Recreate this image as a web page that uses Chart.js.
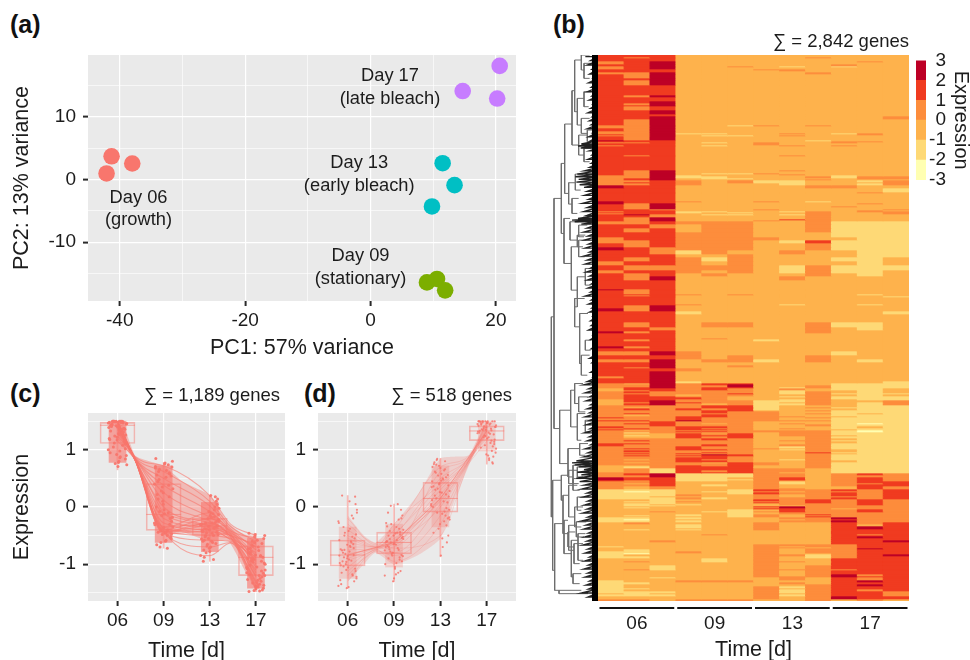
<!DOCTYPE html>
<html>
<head>
<meta charset="utf-8">
<title>Expression panels</title>
<script src="https://cdn.jsdelivr.net/npm/chart.js@4"></script>
<style>
    html, body { margin: 0; background: #fff; width: 970px; height: 660px; overflow: hidden; }
    canvas { position: absolute; }
    .tag { position: absolute; font: bold 25px "Liberation Sans", Arial, sans-serif; color: #111; line-height: 28px; }
</style>
</head>
<body>
<div class="tag" style="left:10px;top:10px">(a)</div>
<div class="tag" style="left:553px;top:10px">(b)</div>
<div class="tag" style="left:10px;top:379px">(c)</div>
<div class="tag" style="left:304px;top:379px">(d)</div>
<canvas id="pcaChart" style="left:0;top:0"></canvas>
<canvas id="dendroChart" style="left:548px;top:25px"></canvas>
<canvas id="heatChart" style="left:598px;top:25px"></canvas>
<canvas id="scaleChart" style="left:905px;top:45px"></canvas>
<canvas id="chartC" style="left:0;top:380px"></canvas>
<canvas id="chartD" style="left:270px;top:380px"></canvas>
<script>
// Panel (a): PCA
const pcaDay06 = [[-41.3, 3.7], [-38.0, 2.55], [-42.1, 0.96]];
const pcaDay09 = [[9.0, -16.4], [10.6, -15.85], [11.9, -17.66]];
const pcaDay13 = [[11.5, 2.6], [13.4, -0.9], [9.8, -4.3]];
const pcaDay17 = [[20.6, 18.1], [14.7, 14.1], [20.2, 12.9]];
const pcaLabels = [
    ["Day 17", "(late bleach)", 3.1, 16.5, 12.9],
    ["Day 13", "(early bleach)", -1.8, 2.66, -0.96],
    ["Day 09", "(stationary)", -1.6, -12.2, -15.85],
    ["Day 06", "(growth)", -37, -2.87, -6.5],
];

// Panel (b): heatmap rows, top to bottom: [height, levels of the 12 columns]
const heatLevelColors = ["#FFFFB2", "#FED976", "#FEB24C", "#FD8D3C", "#F03B20", "#BD0026"];
const heatColumns = ["06", "06", "06", "09", "09", "09", "13", "13", "13", "17", "17", "17"];
const heatRowsA = [
    [2, "444 222 222 222"], [1, "434 222 223 222"], [3, "444 222 222 222"], [1, "345 222 222 232"],
    [2, "345 222 222 222"], [2, "445 222 222 322"], [1, "345 223 212 122"], [2, "345 222 222 222"],
    [1, "444 222 332 222"], [1, "444 222 232 222"], [1, "444 222 222 222"],
    [2, "335 222 223 222"], [4, "435 222 222 222"], [2, "445 222 222 222"], [5, "435 222 222 222"],
    [10, "444 222 222 222"], [2, "435 222 222 222"], [4, "444 222 222 222"], [2, "445 222 222 222"],
    [2, "435 222 222 222"], [1, "445 222 222 222"], [4, "434 222 222 222"], [4, "445 222 222 222"],
    [2, "444 222 222 222"], [3, "445 222 222 223"], [6, "435 222 222 222"], [1, "335 221 323 222"], [2, "335 222 222 222"],
    [3, "435 222 222 222"], [2, "335 222 222 222"], [1, "335 112 232 132"], [1, "435 222 222 232"], [1, "335 211 232 222"],
    [4, "435 222 222 222"], [1, "544 222 221 222"], [1, "444 222 222 332"], [1, "334 212 322 322"], [2, "444 222 322 222"],
    [1, "344 212 232 322"], [9, "444 222 222 222"], [1, "434 222 232 222"], [14, "444 222 222 222"],
    [1, "435 222 232 222"], [2, "435 222 222 222"], [1, "435 211 322 222"], [1, "435 222 232 222"],
    [1, "335 122 222 122"], [2, "335 112 223 133"], [1, "345 211 222 233"], [1, "345 222 223 222"],
    [2, "334 323 112 213"], [1, "344 323 112 223"], [2, "334 322 212 213"],
    [3, "544 222 223 322"], [4, "444 222 222 221"],
];
const heatRowsB = [
    [1, "444 222 222 232"], [8, "444 222 222 222"], [1, "544 322 321 222"], [1, "544 222 222 222"],
    [1, "535 222 222 232"], [2, "435 222 222 222"], [1, "435 222 222 322"], [2, "435 222 222 222"],
    [1, "443 222 322 223"], [1, "444 222 222 232"], [1, "344 112 213 233"], [1, "444 121 223 223"], [1, "344 222 223 223"],
    [1, "453 211 213 222"], [2, "443 222 223 222"], [2, "435 222 223 222"], [1, "435 222 243 222"], [1, "435 222 323 222"],
    [3, "334 333 223 111"], [4, "443 233 223 111"], [4, "434 233 223 111"],
    [5, "444 333 222 111"], [3, "344 333 322 211"], [3, "334 333 214 111"], [4, "434 333 223 111"],
    [3, "543 333 223 111"], [4, "443 132 232 211"], [3, "444 223 222 211"], [4, "434 313 222 112"],
    [4, "344 323 222 212"], [5, "433 333 213 111"], [3, "344 323 213 112"], [3, "434 232 223 212"],
    [4, "435 222 232 222"], [9, "444 222 222 222"], [1, "534 222 222 222"], [4, "434 222 222 222"],
    [1, "444 323 222 212"], [1, "434 222 222 222"], [1, "444 222 222 221"], [7, "444 222 222 222"],
    [1, "444 322 212 212"], [3, "435 222 222 222"], [3, "535 222 222 222"], [3, "444 122 222 221"],
    [8, "444 222 222 222"], [5, "434 233 223 112"], [3, "443 222 223 212"],
];
const heatRowsC = [
    [1, "444 222 223 222"], [2, "534 222 223 222"], [5, "444 222 222 222"], [1, "444 232 222 222"],
    [2, "434 222 122 222"], [5, "444 222 222 222"], [2, "534 222 222 222"], [3, "444 222 222 222"],
    [4, "335 322 222 122"], [4, "444 323 223 222"], [3, "335 233 123 212"], [3, "445 222 222 222"],
    [2, "445 223 222 222"], [1, "435 222 222 222"], [3, "444 322 222 222"], [5, "445 222 222 222"],
    [2, "345 222 222 222"], [3, "445 222 222 222"], [2, "445 122 222 221"],
    [1, "325 344 222 111"], [1, "335 345 222 111"], [2, "335 335 223 111"], [1, "345 344 213 111"],
    [2, "244 343 232 112"], [1, "234 333 212 212"], [2, "343 333 213 212"], [1, "333 334 213 111"], [2, "343 233 223 212"],
    [1, "344 332 213 111"], [2, "344 432 223 111"], [1, "244 332 213 211"], [2, "245 333 113 223"], [1, "235 433 123 213"],
    [2, "245 323 113 213"], [2, "333 344 122 211"], [1, "323 344 123 111"], [2, "343 434 122 211"], [1, "333 344 223 111"],
    [2, "333 343 322 111"], [1, "343 333 323 121"], [2, "323 343 322 111"], [1, "333 443 332 211"], [1, "433 433 323 111"],
    [2, "333 433 322 111"], [1, "443 533 333 111"], [2, "334 333 222 111"], [1, "344 323 232 101"], [2, "334 333 223 111"],
    [2, "433 443 222 121"], [1, "343 433 232 111"], [1, "433 443 222 211"], [1, "323 333 333 101"], [1, "333 443 333 101"],
    [1, "313 323 233 111"], [2, "322 434 233 111"], [1, "312 444 233 211"], [2, "322 434 223 111"], [2, "333 343 223 211"],
    [1, "343 333 233 111"], [2, "333 333 223 211"], [1, "443 333 223 111"], [2, "433 343 233 111"], [2, "333 433 213 111"],
    [1, "343 433 323 111"], [1, "333 443 213 211"], [2, "343 333 223 211"], [1, "333 343 224 111"], [1, "343 433 223 211"],
    [1, "333 354 223 111"], [1, "343 444 223 111"], [1, "333 343 223 111"], [2, "333 443 223 111"], [1, "323 433 213 111"],
    [2, "333 443 223 211"], [1, "323 324 323 111"], [2, "333 334 323 111"], [1, "223 434 223 111"], [2, "213 444 223 111"],
];
const heatRowsD = [
    [2, "231 444 332 111"], [2, "231 434 332 111"], [1, "331 444 322 111"], [2, "345 111 332 343"], [2, "335 111 332 333"],
    [2, "544 112 342 343"], [1, "544 111 342 343"], [1, "434 112 332 343"], [2, "334 222 312 344"], [1, "324 222 312 334"],
    [2, "334 212 322 344"], [2, "323 222 322 243"], [1, "323 222 332 243"], [2, "111 221 433 434"], [1, "101 211 323 334"],
    [2, "111 221 433 434"], [2, "111 322 323 434"], [1, "112 222 323 334"], [2, "111 312 333 434"], [2, "221 222 434 343"],
    [1, "211 322 334 343"], [1, "221 222 434 343"], [1, "211 222 233 343"], [1, "212 122 233 343"], [1, "211 222 223 333"],
    [1, "222 222 453 333"], [1, "212 222 353 333"], [1, "222 222 443 233"], [2, "222 221 243 343"], [1, "223 211 343 343"],
    [2, "222 221 233 333"], [1, "222 121 324 333"], [1, "212 121 323 333"], [1, "222 221 324 333"], [2, "112 122 233 533"],
    [1, "102 222 223 433"], [2, "112 122 233 533"], [2, "232 222 322 434"], [2, "222 122 322 424"], [2, "222 122 322 454"],
    [1, "222 222 322 454"], [1, "212 122 322 444"], [4, "222 222 222 444"], [1, "222 232 222 434"], [1, "222 222 222 444"],
    [2, "222 222 222 454"], [2, "222 222 222 444"], [2, "223 222 222 445"], [2, "222 222 222 444"], [2, "222 222 333 344"],
    [1, "122 222 323 344"], [1, "222 222 332 344"], [1, "222 222 323 354"], [2, "212 222 323 344"], [2, "112 322 323 344"],
    [1, "102 222 322 344"], [2, "122 222 331 345"], [2, "112 222 321 344"], [3, "222 212 322 444"], [1, "232 212 332 444"],
    [3, "222 222 322 444"], [4, "221 222 323 444"], [1, "231 222 333 344"], [4, "222 222 323 444"], [2, "222 222 323 534"],
    [1, "222 222 333 544"], [1, "221 222 232 434"], [2, "222 222 232 434"], [2, "122 333 222 454"], [2, "112 222 232 444"],
    [2, "122 222 223 454"], [2, "122 222 313 444"], [1, "112 222 323 444"], [2, "122 222 313 434"], [2, "111 222 313 443"],
    [1, "212 222 323 443"], [2, "111 222 313 443"], [3, "222 222 323 544"], [2, "332 333 223 232"],
];

// Panel (b): dendrogram merges [height, top row, top child height, bottom row, bottom child height]
const dendroMerges = [
    [10, 800, 18, 1400, 14], [18, 445, 40, 1135, 35], [40, 340, 50, 550, 48], [50, 222, 72, 430, 62],
    [72, 122, 80, 285, 92], [80, 30, 100, 185, 88], [100, 15, 125, 60, 108], [108, 40, 128, 85, 125],
    [88, 145, 108, 225, 100], [108, 125, 128, 170, 122], [100, 205, 125, 250, 118], [92, 255, 118, 315, 108],
    [118, 240, 135, 275, 130], [108, 295, 130, 335, 125], [62, 398, 82, 462, 72], [82, 372, 105, 420, 98],
    [72, 445, 92, 490, 88], [48, 505, 66, 640, 70], [66, 515, 92, 570, 88], [92, 525, 118, 560, 108],
    [88, 555, 112, 590, 105], [70, 590, 92, 720, 88], [92, 570, 115, 620, 110], [88, 680, 112, 770, 80],
    [112, 655, 135, 705, 128], [80, 745, 110, 830, 95], [95, 790, 120, 940, 100], [100, 915, 125, 975, 118],
    [112, 870, 130, 900, 128], [35, 1080, 68, 1240, 60], [68, 1020, 80, 1130, 88], [80, 1000, 105, 1060, 92],
    [92, 1040, 120, 1085, 112], [88, 1090, 112, 1170, 100], [112, 1110, 130, 1145, 125], [60, 1195, 95, 1280, 75],
    [95, 1180, 120, 1215, 112], [75, 1245, 100, 1300, 92], [14, 1290, 40, 1560, 20], [40, 1275, 62, 1350, 45],
    [62, 1260, 88, 1300, 75], [88, 1250, 115, 1280, 105], [75, 1285, 100, 1320, 95], [45, 1335, 62, 1450, 62],
    [62, 1305, 88, 1400, 80], [88, 1340, 110, 1380, 100], [80, 1370, 105, 1430, 100], [62, 1425, 85, 1500, 78],
    [85, 1415, 115, 1460, 108], [78, 1480, 105, 1540, 95], [20, 1420, 48, 1620, 33], [48, 1410, 60, 1510, 70],
    [60, 1445, 82, 1490, 78], [70, 1470, 90, 1580, 75], [90, 1450, 112, 1530, 105], [75, 1570, 100, 1600, 95],
    [33, 1620, 100, 1630, 120],
];
const dendroLeaves = [
    [20, 112], [32, 128], [45, 118], [58, 132], [72, 125], [85, 135], [98, 122], [112, 130], [125, 118], [138, 132],
    [150, 124], [162, 135], [175, 128], [188, 120], [200, 133], [212, 125], [224, 130], [236, 118], [248, 134], [260, 122],
    [272, 128], [282, 100], [288, 90], [294, 98], [302, 125], [315, 132], [328, 120], [340, 130], [352, 125], [362, 110],
    [372, 88], [380, 82], [388, 92], [396, 85], [404, 95], [412, 108], [424, 118], [436, 110], [448, 122], [460, 104],
    [472, 118], [484, 108], [496, 116], [505, 90], [510, 72], [515, 80], [522, 100], [534, 118], [546, 108], [558, 120],
    [570, 110], [582, 122], [594, 112], [606, 125], [618, 108], [630, 118], [642, 112], [654, 128], [666, 115], [678, 125],
    [690, 118], [702, 130], [714, 120], [726, 128], [738, 112], [750, 130], [762, 122], [774, 132], [786, 125], [798, 135],
    [812, 128], [826, 130], [840, 122], [854, 135], [868, 128], [882, 138], [896, 130], [910, 140], [924, 125], [938, 132],
    [952, 138], [966, 128], [980, 135], [994, 118], [1004, 108], [1016, 122], [1028, 112], [1040, 125], [1052, 115], [1064, 128],
    [1076, 118], [1088, 125], [1100, 112], [1112, 122], [1124, 115], [1136, 126], [1148, 110], [1160, 124], [1172, 118], [1184, 128],
    [1196, 112], [1208, 120], [1220, 108], [1232, 85], [1238, 72], [1244, 80], [1250, 92], [1258, 108], [1266, 88], [1274, 100],
    [1284, 85], [1294, 95], [1304, 110], [1316, 102], [1328, 118], [1340, 106], [1352, 120], [1364, 110], [1376, 118], [1388, 105],
    [1400, 120], [1412, 100], [1424, 115], [1436, 108], [1448, 122], [1460, 110], [1472, 118], [1484, 105], [1496, 120], [1508, 112],
    [1520, 125], [1532, 110], [1544, 122], [1556, 108], [1568, 120], [1580, 112], [1592, 125], [1604, 115], [1616, 122], [1628, 100],
    [1640, 120],
];

// Panels (c) and (d)
const days = ["06", "09", "13", "17"];
const cloudOffsets = [
    -0.18, 0.07, -0.03, 0.16, -0.11, 0.02, 0.19, -0.07, 0.12, -0.15, 0.05, -0.2, 0.1, -0.01, 0.17, -0.13, 0.04, -0.09, 0.14, -0.05,
    0.2, -0.17, 0.08, -0.02, 0.13, -0.12, 0.01, 0.18, -0.08, 0.11, -0.19, 0.06, -0.04, 0.15, -0.14, 0.03, 0.09, -0.1, 0.17, -0.06,
    0.12, -0.16, 0.0, 0.2, -0.03, -0.18, 0.1, 0.05, -0.12, 0.16, -0.07, 0.02, 0.13, -0.2, 0.08, -0.01, 0.19, -0.15, 0.04, -0.09,
];
const cCloud06 = [1.48, 1.5, 1.42, 1.36, 1.5, 1.28, 1.45, 1.12, 1.49, 1.33, 0.98, 1.47, 1.5, 1.22, 0.84, 1.41, 1.5, 1.05, 1.38, 0.76, 1.46, 1.18, 1.5, 0.92, 1.31, 1.44, 0.71, 1.26, 1.5, 1.08, 1.39, 0.88, 1.49, 1.15, 1.43, 0.8, 1.35, 1.5, 1.02, 1.24, 1.47, 0.95, 1.4, 0.74, 1.5, 1.2, 1.3, 0.86, 1.45, 1.1, 1.5, 0.78, 1.37, 1.0, 1.48, 1.17, 0.9, 1.42, 1.27, 1.5];
const cCloud09 = [0.71, -0.42, 0.35, -0.55, 0.62, -0.12, 0.8, -0.38, 0.18, -0.66, 0.52, -0.28, 0.74, 0.05, -0.47, 0.44, -0.6, 0.66, -0.2, 0.28, -0.35, 0.85, -0.5, 0.1, 0.58, -0.44, -0.05, 0.7, -0.7, 0.38, -0.31, 0.64, -0.15, -0.52, 0.22, 0.77, -0.4, 0.48, -0.25, -0.62, 0.6, 0.0, -0.36, 0.32, -0.48, 0.68, -0.1, -0.58, 0.14, 0.54, -0.42, 0.75, -0.3, 0.4, -0.72, 0.25, -0.18, 0.56, -0.45, -0.08];
const cCloud13 = [-0.3, -0.12, -0.55, 0.05, -0.38, -0.7, -0.22, -0.45, 0.18, -0.6, -0.28, -0.85, -0.05, -0.4, -0.33, -0.75, -0.18, -0.5, 0.1, -0.65, -0.25, -0.42, -0.92, -0.08, -0.35, -0.58, -0.15, -0.48, -0.8, 0.0, -0.3, -0.62, -0.2, -0.44, -0.95, -0.1, -0.37, -0.52, 0.14, -0.68, -0.27, -0.41, -0.78, -0.02, -0.34, -0.56, -0.17, -0.46, -0.88, -0.24, -0.39, 0.2, -0.64, -0.31, -0.5, -0.72, -0.13, -0.43, -0.6, -0.28];
const cCloud17 = [-0.9, -1.2, -0.62, -1.42, -0.78, -1.05, -0.5, -1.33, -0.95, -1.48, -0.7, -1.15, -0.85, -1.38, -0.55, -1.02, -1.28, -0.66, -1.45, -0.92, -1.1, -0.74, -1.35, -0.48, -1.22, -0.82, -1.4, -0.98, -0.6, -1.3, -1.08, -0.76, -1.46, -0.88, -1.18, -0.58, -1.25, -0.94, -1.37, -0.68, -1.12, -0.8, -1.43, -1.0, -0.52, -1.27, -0.86, -1.4, -0.72, -1.16, -0.96, -1.32, -0.64, -1.06, -1.47, -0.84, -1.2, -0.46, -1.36, -0.9];
const dCloud06 = [-0.85, -0.6, -1.1, 0.18, -0.95, -0.42, -1.25, -0.75, -0.2, -1.02, -0.68, -1.38, -0.52, -0.9, 0.05, -1.15, -0.78, -0.35, -1.3, -0.82, -0.1, -0.98, -0.62, -1.42, -0.72, 0.2, -1.06, -0.48, -0.88, -1.2, -0.28, -0.7, -1.0, -0.55, -1.35, -0.92, -0.15, -0.8, -1.12, -0.45, -0.65, -1.28, -0.86, -0.05, -0.96, -0.58, -1.18, -0.38, -0.76, -1.08, -0.5, -1.4, -0.84, -0.25, -0.94, -0.66, -1.22, -0.74, 0.1, -1.04];
const dCloud09 = [-0.62, -0.45, -0.8, -0.2, -0.7, -1.05, -0.52, 0.02, -0.88, -0.6, -0.35, -1.2, -0.75, -0.5, -0.95, -0.1, -0.66, -0.42, -1.12, -0.82, -0.56, -0.28, -0.72, -1.3, -0.48, -0.9, -0.64, -0.15, -0.78, -0.38, -1.0, -0.58, -0.85, -0.05, -0.68, -0.46, -1.15, -0.74, -0.54, -0.3, -0.92, -0.6, -1.25, -0.4, -0.8, -0.7, -0.22, -0.98, -0.5, -0.84, -0.62, -1.08, -0.44, -0.76, 0.05, -0.65, -0.86, -0.34, -1.18, -0.56];
const dCloud13 = [0.45, 0.1, 0.72, -0.2, 0.3, 0.58, -0.05, 0.84, 0.22, -0.45, 0.5, 0.02, 0.66, -0.3, 0.38, 0.78, -0.12, 0.15, -0.62, 0.55, 0.28, 0.7, -0.25, 0.42, -0.02, 0.62, -0.85, 0.18, 0.82, -0.15, 0.35, 0.48, -0.38, 0.08, 0.75, 0.25, -0.08, 0.6, -0.5, 0.32, 0.52, 0.0, 0.68, -0.22, 0.4, 0.12, 0.8, -0.7, 0.2, 0.56, -0.1, 0.46, -0.32, 0.05, 0.64, 0.26, -0.18, 0.36, -0.55, 0.74];
const dCloud17 = [1.42, 1.28, 1.5, 1.1, 1.36, 1.47, 0.95, 1.22, 1.5, 1.33, 0.82, 1.45, 1.16, 1.39, 1.5, 1.04, 1.3, 1.48, 0.88, 1.25, 1.43, 1.5, 1.12, 1.35, 0.76, 1.46, 1.2, 1.4, 1.5, 0.98, 1.32, 1.44, 1.08, 1.27, 1.49, 0.9, 1.37, 1.5, 1.18, 1.41, 0.78, 1.3, 1.47, 1.02, 1.24, 1.5, 1.34, 0.85, 1.44, 1.14, 1.38, 1.5, 1.06, 1.29, 1.46, 0.92, 1.4, 1.5, 1.22, 1.35];

const cTraceDays = [0, 0.38, 1, 2, 2.45, 3];
const cTraces = [
    [1.5, 0.88, 0.72, 0.2, -0.3, -0.5], [1.45, 0.87, 0.62, 0.1, -0.34, -0.6], [1.48, 0.86, 0.5, 0.02, -0.38, -0.75],
    [1.42, 0.85, 0.38, -0.08, -0.4, -0.85], [1.3, 0.85, 0.25, -0.18, -0.42, -0.95], [1.2, 0.84, 0.12, -0.25, -0.45, -0.7],
    [1.47, 0.84, 0, -0.28, -0.44, -1.05], [1.4, 0.84, -0.12, -0.32, -0.47, -0.9], [1.35, 0.83, -0.2, -0.36, -0.48, -1.15],
    [1.5, 0.83, -0.28, -0.4, -0.5, -1.22], [1.46, 0.83, -0.34, -0.3, -0.52, -1.3], [1.43, 0.82, -0.38, -0.44, -0.5, -1.0],
    [1.38, 0.82, -0.4, -0.2, -0.47, -1.38], [1.25, 0.83, -0.42, -0.5, -0.55, -0.8], [1.5, 0.82, -0.43, -0.28, -0.52, -1.45],
    [1.44, 0.83, -0.44, -0.38, -0.54, -1.2], [1.32, 0.84, -0.45, -0.58, -0.6, -1.1], [1.48, 0.82, -0.46, -0.7, -0.62, -1.32],
    [1.15, 0.82, -0.41, -0.85, -0.63, -1.4], [1.5, 0.83, -0.44, -0.33, -0.5, -0.65], [1.41, 0.84, -0.36, -0.1, -0.42, -0.55],
    [1.36, 0.85, -0.47, -0.42, -0.56, -0.92],
];
const dTraceDays = [0, 0.6, 1, 2, 2.6, 3];
const dTraces = [
    [-0.2, -0.66, -0.4, 0.7, 0.88, 1.48], [-0.55, -0.7, -0.5, 0.5, 0.85, 1.42], [-0.9, -0.72, -0.6, 0.3, 0.82, 1.35],
    [-1.2, -0.74, -0.7, 0.15, 0.8, 1.3], [-0.4, -0.68, -0.55, 0.1, 0.78, 1.25], [-0.75, -0.72, -0.62, 0.0, 0.8, 1.5],
    [-1.05, -0.76, -0.85, -0.15, 0.78, 1.4], [-0.62, -0.7, -0.3, 0.4, 0.84, 1.2], [-0.85, -0.74, -0.95, -0.3, 0.76, 1.33],
    [-0.3, -0.64, -0.66, 0.62, 0.86, 1.45], [-1.3, -0.78, -0.8, 0.05, 0.75, 1.15], [-0.7, -0.7, -0.58, 0.22, 0.82, 1.38],
    [-0.82, -0.72, -0.64, 0.16, 0.8, 1.32], [-0.94, -0.74, -0.48, 0.36, 0.83, 1.44], [-0.5, -0.7, -0.72, -0.5, 0.74, 1.28],
    [-1.12, -0.76, -0.6, 0.12, 0.79, 1.36],
];
const cBandDays = [0, 0.15, 0.38, 0.6, 1, 1.4, 2, 2.4, 2.75, 3];
const cBandUpper = [1.5, 1.38, 0.9, 0.82, 0.72, 0.45, 0.2, -0.28, -0.48, -0.5];
const cBandLower = [1.2, 1.1, 0.82, 0.3, -0.47, -0.44, -0.6, -0.6, -1.1, -1.45];
const dBandDays = [0, 0.35, 0.6, 1, 1.5, 2, 2.3, 2.6, 2.8, 3];
const dBandUpper = [-0.15, -0.5, -0.62, -0.3, 0.2, 0.85, 0.88, 0.9, 1.2, 1.5];
const dBandLower = [-1.3, -1.0, -0.8, -1.0, -0.85, -0.55, 0.1, 0.7, 1.05, 1.25];

const cBoxes = [[1.11, 1.48], [-0.41, 0.41], [-0.49, -0.2], [-1.2, -0.68]];
const cMedians = [1.43, -0.13, -0.33, -0.88];
const cWhiskers = [[0.65, 1.5], [-0.72, 0.78], [-0.95, 0.2], [-1.48, -0.46]];
const cDense = [[0.78, 1.5], [-0.62, 0.72], [-0.78, 0.08], [-1.42, -0.55]];
const dBoxes = [[-1.03, -0.58], [-0.82, -0.44], [-0.09, 0.43], [1.16, 1.42]];
const dMedians = [-0.84, -0.62, 0.15, 1.33];
const dWhiskers = [[-1.42, 0.2], [-1.3, 0.05], [-0.87, 0.85], [0.75, 1.5]];
const dDense = [[-1.25, -0.35], [-1.05, -0.3], [-0.35, 0.72], [0.98, 1.5]];

const FONT = '"Liberation Sans", Arial, sans-serif';
const INK = "#1c1c1c";
const SALMON = "248,118,109";

// Fills the plot area and writes the free-standing captions
const panelPaint = {
    id: "panelPaint",
    beforeDraw(chart, args, opts) {
        const a = chart.chartArea;
        chart.ctx.fillStyle = opts.background;
        chart.ctx.fillRect(a.left, a.top, a.width, a.height);
    },
    afterDraw(chart, args, opts) {
        if (!opts.caption) return;
        const ctx = chart.ctx;
        ctx.save();
        ctx.font = "18.5px " + FONT;
        ctx.fillStyle = INK;
        ctx.textAlign = "right";
        ctx.textBaseline = "middle";
        ctx.fillText(opts.caption, opts.captionX, opts.captionY);
        ctx.restore();
    },
};

function ggAxis(conf) {
    const isMajor = (v) => conf.majors.includes(v);
    return {
        type: "linear",
        min: conf.min,
        max: conf.max,
        offset: false,
        afterBuildTicks(axis) {
            axis.ticks = conf.majors.concat(conf.minors).map((v) => ({ value: v }));
        },
        afterFit(axis) {
            if (axis.isHorizontal()) {
                axis.height = conf.size;
                axis.paddingLeft = 0;
                axis.paddingRight = 0;
            } else {
                axis.width = conf.size;
                axis.paddingTop = 0;
                axis.paddingBottom = 0;
            }
        },
        grid: {
            offset: false,
            color: "#fff",
            lineWidth: (c) => (c.tick && isMajor(c.tick.value) ? 1.2 : 0.6),
            tickColor: (c) => (c.tick && isMajor(c.tick.value) ? "#2a2a2a" : "rgba(0,0,0,0)"),
            tickWidth: 2,
            tickLength: 5,
        },
        border: { display: false },
        ticks: {
            autoSkip: false,
            maxRotation: 0,
            padding: conf.padding,
            color: INK,
            font: { family: FONT, size: 19 },
            callback: (v) => (isMajor(v) ? conf.label(v) : ""),
        },
        title: {
            display: !!conf.title,
            text: conf.title,
            color: INK,
            font: { family: FONT, size: 21.5 },
            padding: conf.titlePadding,
        },
    };
}

function sizeCanvas(id, w, h) {
    const el = document.getElementById(id);
    el.width = w;
    el.height = h;
    el.style.width = w + "px";
    el.style.height = h + "px";
    return el;
}

const basePlugins = { legend: { display: false }, tooltip: { enabled: false } };

// Panel (a)
const pcaWriter = {
    id: "pcaWriter",
    afterDatasetsDraw(chart) {
        const ctx = chart.ctx;
        const { x, y } = chart.scales;
        ctx.save();
        ctx.font = "18.3px " + FONT;
        ctx.fillStyle = INK;
        ctx.textAlign = "center";
        ctx.textBaseline = "middle";
        pcaLabels.forEach(([line1, line2, px, y1, y2]) => {
            ctx.fillText(line1, x.getPixelForValue(px), y.getPixelForValue(y1));
            ctx.fillText(line2, x.getPixelForValue(px), y.getPixelForValue(y2));
        });
        ctx.restore();
    },
};

function pcaSet(points, color) {
    return {
        data: points.map(([x, y]) => ({ x, y })),
        backgroundColor: color,
        borderWidth: 0,
        pointRadius: 8.3,
    };
}

new Chart(sizeCanvas("pcaChart", 537, 370), {
    type: "scatter",
    data: {
        datasets: [
            pcaSet(pcaDay06, "#F8766D"),
            pcaSet(pcaDay09, "#7CAE00"),
            pcaSet(pcaDay13, "#00BFC4"),
            pcaSet(pcaDay17, "#C77CFF"),
        ],
    },
    options: {
        responsive: false,
        animation: false,
        layout: { autoPadding: false, padding: { top: 55, right: 21 } },
        scales: {
            x: ggAxis({
                min: -45.06, max: 23.2, majors: [-40, -20, 0, 20], minors: [-30, -10, 10],
                label: (v) => String(v), size: 69, padding: 3,
                title: "PC1: 57% variance", titlePadding: { top: 0, bottom: 9 },
            }),
            y: ggAxis({
                min: -19.36, max: 19.84, majors: [-10, 0, 10], minors: [-15, -5, 5, 15],
                label: (v) => String(v), size: 88, padding: 7,
                title: "PC2: 13% variance", titlePadding: { top: 9, bottom: 0 },
            }),
        },
        plugins: Object.assign({ panelPaint: { background: "#EAEAEA" } }, basePlugins),
    },
    plugins: [panelPaint, pcaWriter],
});

// Panel (b): dendrogram
const dendroSets = dendroMerges.map(([h, top, topChild, bot, botChild]) => ({
    data: [
        { x: topChild, y: top },
        { x: h, y: top },
        { x: h, y: bot },
        { x: botChild, y: bot },
    ],
    borderColor: "#6e6e6e",
    borderWidth: 1,
    pointRadius: 0,
    showLine: true,
}));
const leafPath = [];
dendroLeaves.forEach(([row, left]) => {
    leafPath.push({ x: left, y: row }, { x: 150, y: row });
});
dendroSets.unshift(
    {
        data: [{ x: 141, y: 15 }, { x: 141, y: 1652 }],
        borderColor: "#000",
        borderWidth: 6,
        pointRadius: 0,
        showLine: true,
    },
    { data: leafPath, borderColor: "#222", borderWidth: 1.4, pointRadius: 0, showLine: true }
);

new Chart(sizeCanvas("dendroChart", 50, 576), {
    type: "scatter",
    data: { datasets: dendroSets },
    options: {
        responsive: false,
        animation: false,
        layout: { autoPadding: false, padding: { top: 30 } },
        scales: {
            x: { type: "linear", min: 0, max: 150, display: false },
            y: { type: "linear", min: 15, max: 1652, reverse: true, display: false },
        },
        plugins: basePlugins,
    },
});

// Panel (b): heatmap
const heatRows = heatRowsA.concat(heatRowsB, heatRowsC, heatRowsD);
const heatSets = heatRows.map(([height, levels]) => {
    const codes = levels.replace(/ /g, "").split("");
    return {
        data: codes.map(() => height),
        backgroundColor: codes.map((c) => heatLevelColors[Number(c)]),
        borderWidth: 0,
        categoryPercentage: 1,
        barPercentage: 1,
    };
});
const heatGroupBars = {
    id: "heatGroupBars",
    afterDraw(chart) {
        const ctx = chart.ctx;
        const x = chart.scales.x;
        const colW = x.getPixelForValue(1) - x.getPixelForValue(0);
        ctx.save();
        ctx.strokeStyle = "#111";
        ctx.lineWidth = 2;
        for (let i = 0; i < heatColumns.length; i += 3) {
            ctx.beginPath();
            ctx.moveTo(x.getPixelForValue(i) - colW / 2 + 1.5, chart.chartArea.bottom + 7);
            ctx.lineTo(x.getPixelForValue(i + 2) + colW / 2 - 1.5, chart.chartArea.bottom + 7);
            ctx.stroke();
        }
        ctx.restore();
    },
};

new Chart(sizeCanvas("heatChart", 311, 639), {
    type: "bar",
    data: { labels: heatColumns, datasets: heatSets },
    options: {
        responsive: false,
        animation: false,
        layout: { autoPadding: false, padding: { top: 30 } },
        scales: {
            x: {
                stacked: true,
                grid: { display: false },
                border: { display: false },
                afterFit(axis) { axis.height = 63; },
                ticks: {
                    autoSkip: false,
                    maxRotation: 0,
                    padding: 3,
                    color: INK,
                    font: { family: FONT, size: 19 },
                    callback(v, i) { return i % 3 === 1 ? heatColumns[i] : ""; },
                },
                title: {
                    display: true,
                    text: "Time [d]",
                    color: INK,
                    font: { family: FONT, size: 21.5 },
                    padding: { top: 0, bottom: 1 },
                },
            },
            y: { stacked: true, min: 0, max: 546, reverse: true, display: false },
        },
        plugins: Object.assign({
            panelPaint: { background: "#FEB24C", caption: "∑ = 2,842 genes", captionX: 311, captionY: 17 },
        }, basePlugins),
    },
    plugins: [panelPaint, heatGroupBars],
});

// Panel (b): colour key
const scaleTicks = [-3, -2, -1, 0, 1, 2];
new Chart(sizeCanvas("scaleChart", 70, 155), {
    type: "bar",
    data: {
        labels: ["Expression"],
        datasets: scaleTicks.map((v, i) => ({
            data: [[v, v + 1]],
            backgroundColor: heatLevelColors[i],
            borderWidth: 0,
            grouped: false,
            categoryPercentage: 1,
            barPercentage: 1,
        })),
    },
    options: {
        responsive: false,
        animation: false,
        layout: { autoPadding: false, padding: { top: 14, left: 11, bottom: 20, right: 29 } },
        scales: {
            x: { display: false },
            y: {
                position: "right",
                min: -3,
                max: 3,
                afterFit(axis) { axis.width = 20; },
                grid: { display: false },
                border: { display: false },
                ticks: {
                    stepSize: 1,
                    autoSkip: false,
                    crossAlign: "far",
                    padding: 4,
                    color: INK,
                    font: { family: FONT, size: 19 },
                },
                title: {
                    display: true,
                    text: "Expression",
                    color: INK,
                    font: { family: FONT, size: 20 },
                    padding: { top: -27, bottom: 0 },
                },
            },
        },
        plugins: basePlugins,
    },
});

// Panels (c), (d)
function floatBars(spans, width, fill, stroke, order) {
    return {
        type: "bar",
        data: spans.map((span, i) => ({ x: i, y: span })),
        grouped: false,
        barThickness: width,
        maxBarThickness: width,
        backgroundColor: fill,
        borderColor: stroke,
        borderWidth: stroke ? 1 : 0,
        borderSkipped: false,
        order: order,
    };
}

function expressionSets(p) {
    const sets = [];
    sets.push(floatBars(p.dense, 17, "rgba(" + SALMON + "," + p.denseAlpha + ")", null, 9));
    sets.push({
        type: "line",
        data: p.bandDays.map((d, i) => ({ x: d, y: p.bandUpper[i] })),
        fill: "+1",
        backgroundColor: "rgba(" + SALMON + "," + p.bandAlpha + ")",
        borderWidth: 0,
        pointRadius: 0,
        tension: 0.2,
        order: 8,
    });
    sets.push({
        type: "line",
        data: p.bandDays.map((d, i) => ({ x: d, y: p.bandLower[i] })),
        borderWidth: 0,
        pointRadius: 0,
        tension: 0.2,
        order: 8,
    });
    p.traces.forEach((trace) => {
        sets.push({
            type: "line",
            data: p.traceDays.map((d, i) => ({ x: d, y: trace[i] })),
            borderColor: "rgba(" + SALMON + "," + p.traceAlpha + ")",
            borderWidth: p.traceWidth,
            pointRadius: 0,
            cubicInterpolationMode: "monotone",
            order: 7,
        });
    });
    sets.push(floatBars(p.whiskers, 1, "rgba(" + SALMON + ",0.5)", null, 5));
    p.clouds.forEach((cloud, day) => {
        sets.push({
            type: "scatter",
            data: cloud.map((y, i) => ({ x: day + cloudOffsets[i], y: y })),
            backgroundColor: "rgba(" + SALMON + "," + p.pointAlpha + ")",
            borderWidth: 0,
            pointRadius: p.pointRadius,
            order: 6,
        });
    });
    sets.push(floatBars(p.boxes, 35, "rgba(0,0,0,0)", "rgba(" + SALMON + ",0.45)", 4));
    sets.push({
        type: "line",
        data: p.medians.map((y, i) => ({ x: i, y: y })),
        borderColor: "rgba(" + SALMON + ",0.6)",
        borderWidth: 1,
        pointRadius: 17.5,
        pointStyle: "line",
        pointBorderWidth: 1,
        pointBorderColor: "rgba(" + SALMON + ",0.6)",
        order: 3,
    });
    return sets;
}

function expressionChart(id, width, p) {
    new Chart(sizeCanvas(id, width, 284), {
        type: "line",
        data: { datasets: expressionSets(p) },
        options: {
            responsive: false,
            animation: false,
            layout: { autoPadding: false, padding: { top: 33, right: p.rightPad } },
            scales: {
                x: ggAxis({
                    min: p.xMin, max: p.xMax, majors: [0, 1, 2, 3], minors: [],
                    label: (v) => days[v], size: 63, padding: 3,
                    title: "Time [d]", titlePadding: { top: 0, bottom: 0 },
                }),
                y: ggAxis({
                    min: -1.644, max: 1.644, majors: [-1, 0, 1], minors: [-1.5, -0.5, 0.5, 1.5],
                    label: (v) => String(v), size: p.yWidth, padding: 7,
                    title: p.yTitle, titlePadding: { top: 9, bottom: 0 },
                }),
            },
            plugins: Object.assign({
                panelPaint: { background: "#EAEAEA", caption: p.caption, captionX: p.captionX, captionY: 16 },
            }, basePlugins),
        },
        plugins: [panelPaint],
    });
}

expressionChart("chartC", 294, {
    clouds: [cCloud06, cCloud09, cCloud13, cCloud17],
    traces: cTraces, traceDays: cTraceDays,
    bandDays: cBandDays, bandUpper: cBandUpper, bandLower: cBandLower,
    boxes: cBoxes, medians: cMedians, whiskers: cWhiskers, dense: cDense,
    denseAlpha: 0.62, bandAlpha: 0.42, traceAlpha: 0.6, traceWidth: 1.1, pointAlpha: 0.95, pointRadius: 1.5,
    xMin: -0.64, xMax: 3.63, yWidth: 88, rightPad: 9, yTitle: "Expression",
    caption: "∑ = 1,189 genes", captionX: 280,
});
expressionChart("chartD", 252, {
    clouds: [dCloud06, dCloud09, dCloud13, dCloud17],
    traces: dTraces, traceDays: dTraceDays,
    bandDays: dBandDays, bandUpper: dBandUpper, bandLower: dBandLower,
    boxes: dBoxes, medians: dMedians, whiskers: dWhiskers, dense: dDense,
    denseAlpha: 0.26, bandAlpha: 0.24, traceAlpha: 0.32, traceWidth: 0.7, pointAlpha: 0.85, pointRadius: 1.1,
    xMin: -0.64, xMax: 3.63, yWidth: 48, rightPad: 6, yTitle: "",
    caption: "∑ = 518 genes", captionX: 242,
});
</script>
</body>
</html>
